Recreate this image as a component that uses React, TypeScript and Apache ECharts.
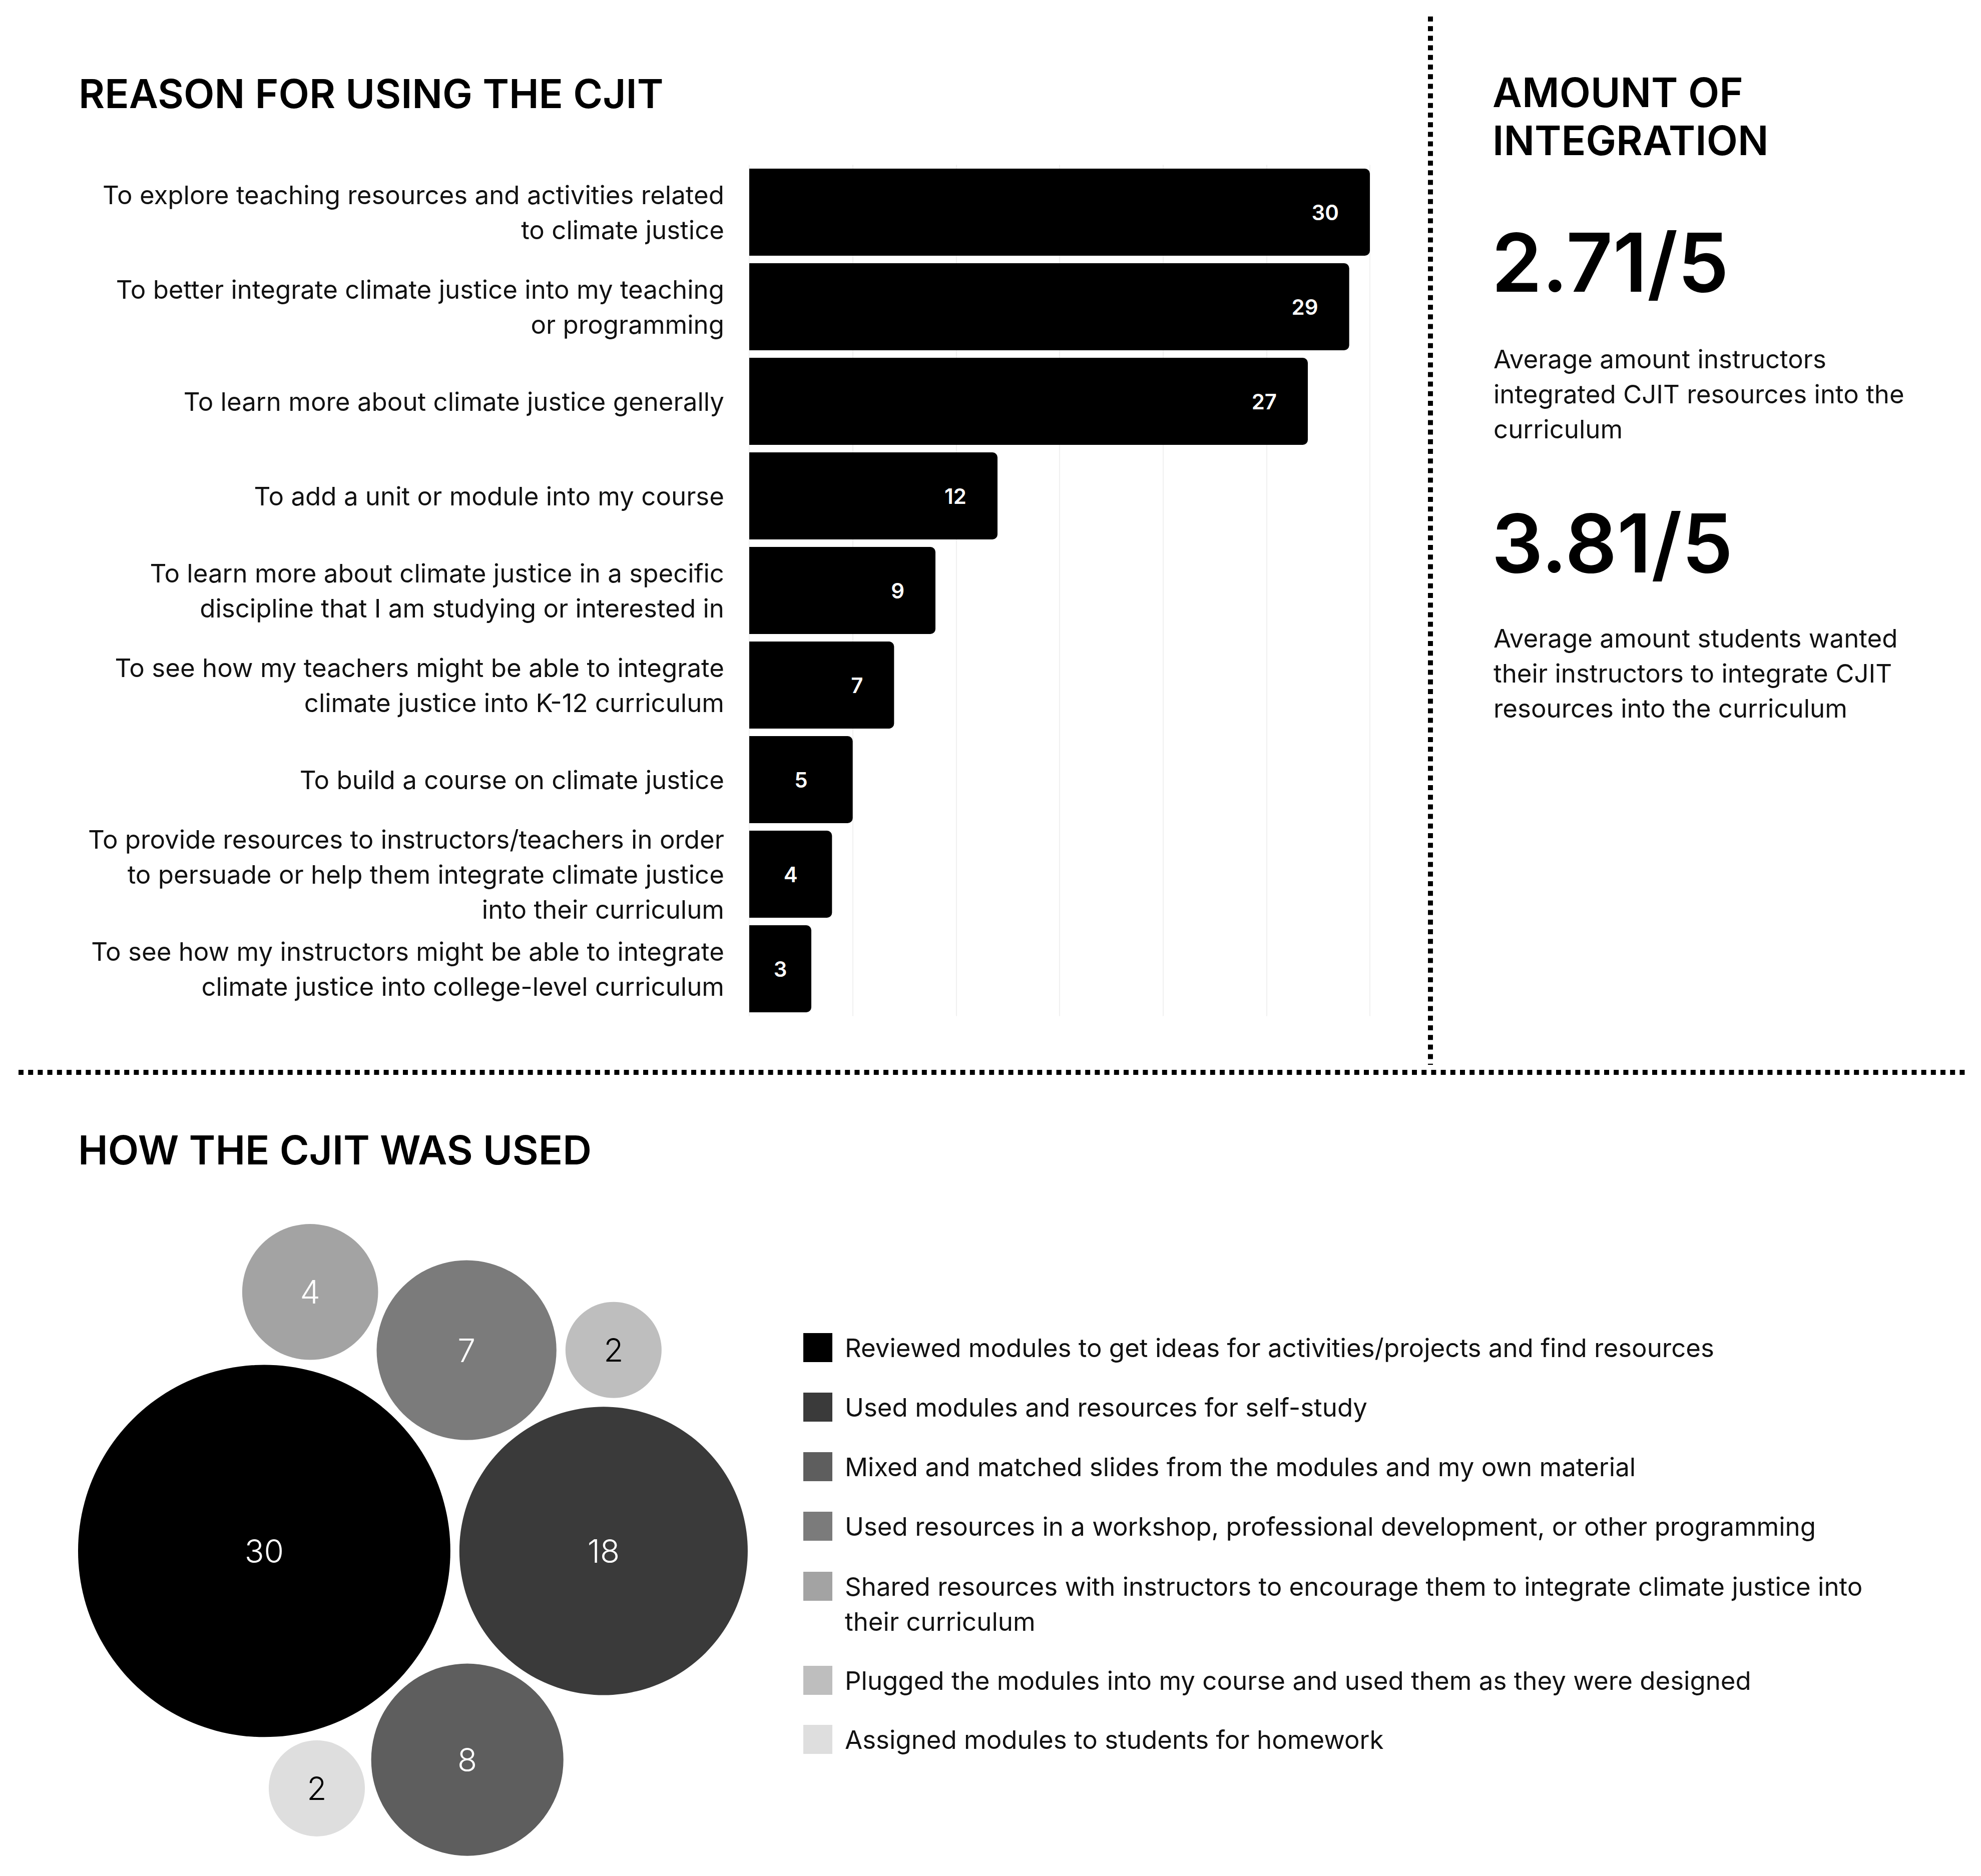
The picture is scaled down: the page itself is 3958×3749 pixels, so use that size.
import React, { useEffect, useRef } from "react";
import * as echarts from "echarts";

// ---------- data ----------
const reasonCategories = [
  "To explore teaching resources and activities related\nto climate justice",
  "To better integrate climate justice into my teaching\nor programming",
  "To learn more about climate justice generally",
  "To add a unit or module into my course",
  "To learn more about climate justice in a specific\ndiscipline that I am studying or interested in",
  "To see how my teachers might be able to integrate\nclimate justice into K-12 curriculum",
  "To build a course on climate justice",
  "To provide resources to instructors/teachers in order\nto persuade or help them integrate climate justice\ninto their curriculum",
  "To see how my instructors might be able to integrate\nclimate justice into college-level curriculum",
];
const reasonValues = [30, 29, 27, 12, 9, 7, 5, 4, 3];
const reasonAxisMax = 30;
const reasonAxisStep = 5;

const usageCategories = [
  "Reviewed modules to get ideas for activities/projects and find resources",
  "Used modules and resources for self-study",
  "Mixed and matched slides from the modules and my own material",
  "Used resources in a workshop, professional development, or other programming",
  "Shared resources with instructors to encourage them to integrate climate justice into\ntheir curriculum",
  "Plugged the modules into my course and used them as they were designed",
  "Assigned modules to students for homework",
];
const usageValues = [30, 18, 8, 7, 4, 2, 2];
const usageColors = ["#000000", "#3a3a3a", "#5e5e5e", "#7b7b7b", "#a3a3a3", "#bebebe", "#dedede"];

const integrationTitle = "AMOUNT OF\nINTEGRATION";
const integrationScores = ["2.71/5", "3.81/5"];
const integrationNotes = [
  "Average amount instructors\nintegrated CJIT resources into the\ncurriculum",
  "Average amount students wanted\ntheir instructors to integrate CJIT\nresources into the curriculum",
];
const reasonTitle = "REASON FOR USING THE CJIT";
const usageTitle = "HOW THE CJIT WAS USED";

// ---------- bubble packing (layout, not data) ----------
const BUBBLE_K = 67.9; // px per sqrt(value)
const BUBBLE_PAD = 18;
// for bubble i (>=2): tangent to bubbles [a, b], on side s
const packRule: Record<number, [number, number, number]> = {
  2: [0, 1, 1],
  3: [0, 1, -1],
  4: [0, 3, -1],
  5: [3, 1, -1],
  6: [0, 2, 1],
};

function packBubbles() {
  const pts: { x: number; y: number; r: number }[] = [];
  usageValues.forEach((v, i) => {
    const r = BUBBLE_K * Math.sqrt(v);
    if (i === 0) pts.push({ x: 0, y: 0, r });
    else if (i === 1) pts.push({ x: pts[0].r + r + BUBBLE_PAD, y: 0, r });
    else {
      const [a, b, s] = packRule[i];
      const p1 = pts[a];
      const p2 = pts[b];
      const d1 = p1.r + r + BUBBLE_PAD;
      const d2 = p2.r + r + BUBBLE_PAD;
      const dx = p2.x - p1.x;
      const dy = p2.y - p1.y;
      const d = Math.hypot(dx, dy);
      const ux = dx / d;
      const uy = dy / d;
      const aa = (d1 * d1 - d2 * d2 + d * d) / (2 * d);
      const h = Math.sqrt(Math.max(0, d1 * d1 - aa * aa));
      pts.push({ x: p1.x + aa * ux - s * h * uy, y: p1.y + aa * uy + s * h * ux, r });
    }
  });
  return pts;
}

const FONT = "Inter";

export default function App() {
  const ref = useRef<HTMLDivElement>(null);

  useEffect(() => {
    document.body.style.margin = "0";
    if (!ref.current) return;
    const chart = echarts.init(ref.current, undefined, { renderer: "svg" });

    const pts = packBubbles();
    const minX = Math.min(...pts.map((p) => p.x - p.r));
    const maxX = Math.max(...pts.map((p) => p.x + p.r));
    const minY = Math.min(...pts.map((p) => p.y - p.r));
    const maxY = Math.max(...pts.map((p) => p.y + p.r));

    const isLight = (c: string) => parseInt(c.slice(1, 3), 16) > 0xb0;

    const bubbleSeries = usageCategories.map((name, i) => ({
      type: "scatter",
      name,
      xAxisIndex: 1,
      yAxisIndex: 1,
      data: [[pts[i].x, pts[i].y, usageValues[i]]],
      symbol: "circle",
      symbolSize: 2 * pts[i].r,
      itemStyle: { color: usageColors[i], opacity: 1 },
      label: {
        show: true,
        position: "inside",
        formatter: (p: any) => String(p.data[2]),
        color: isLight(usageColors[i]) ? "#000" : "#fff",
        fontSize: 64,
        fontFamily: FONT,
        fontWeight: 300,
      },
      emphasis: { disabled: true },
      silent: true,
    }));

    const legendText = {
      fontSize: 51,
      lineHeight: 70,
      color: "#111",
      fontFamily: FONT,
      padding: [0, 0, 0, 20],
    };

    const option: any = {
      animation: false,
      backgroundColor: "#fff",
      grid: [
        { left: 1497, top: 329.5, width: 1240, height: 1701, containLabel: false },
        { left: 156, top: 2446, width: maxX - minX, height: maxY - minY, containLabel: false },
      ],
      xAxis: [
        {
          type: "value",
          gridIndex: 0,
          min: 0,
          max: reasonAxisMax,
          interval: reasonAxisStep,
          axisLabel: { show: false },
          axisLine: { show: false },
          axisTick: { show: false },
          splitLine: { show: true, lineStyle: { color: "#f0f0f0", width: 2 } },
        },
        { type: "value", gridIndex: 1, min: minX, max: maxX, show: false },
      ],
      yAxis: [
        {
          type: "category",
          gridIndex: 0,
          data: reasonCategories,
          inverse: true,
          axisLine: { show: false },
          axisTick: { show: false },
          splitLine: { show: false },
          axisLabel: {
            margin: 50,
            fontSize: 51,
            lineHeight: 70,
            color: "#111",
            fontFamily: FONT,
            align: "right",
          },
        },
        { type: "value", gridIndex: 1, min: minY, max: maxY, inverse: true, show: false },
      ],
      legend: [
        {
          orient: "vertical",
          left: 1605,
          top: 2658,
          padding: 0,
          itemWidth: 58,
          itemHeight: 58,
          itemGap: 49,
          selectedMode: false,
          textStyle: legendText,
          data: usageCategories.slice(0, 4).map((name) => ({ name, icon: "rect" })),
        },
        {
          orient: "vertical",
          left: 1605,
          top: 3065,
          padding: 0,
          itemWidth: 58,
          itemHeight: 58,
          itemGap: 48,
          selectedMode: false,
          textStyle: legendText,
          // a wrapped label gets a blank lead line so its first line sits beside the swatch
          formatter: (name: string) => (name.includes("\n") ? " \n" + name : name),
          data: usageCategories.slice(4).map((name) => ({ name, icon: "rect" })),
        },
      ],
      series: [
        {
          type: "bar",
          xAxisIndex: 0,
          yAxisIndex: 0,
          barWidth: 174,
          data: reasonValues.map((v) => ({
            value: v,
            label: { position: v <= 5 ? "inside" : "insideRight" },
          })),
          itemStyle: { color: "#000", borderRadius: [0, 10, 10, 0] },
          label: {
            show: true,
            position: "insideRight",
            distance: 62,
            color: "#fff",
            fontSize: 42,
            fontWeight: 600,
            fontFamily: FONT,
          },
          emphasis: { disabled: true },
          silent: true,
        },
        ...bubbleSeries,
      ],
      graphic: [
        {
          type: "text",
          x: 157,
          y: 186,
          style: { text: reasonTitle, fontSize: 80, fontWeight: 600, fontFamily: FONT, fill: "#000", verticalAlign: "middle" },
        },
        {
          type: "text",
          x: 156,
          y: 2297,
          style: { text: usageTitle, fontSize: 80, fontWeight: 600, fontFamily: FONT, fill: "#000", verticalAlign: "middle" },
        },
        {
          type: "text",
          x: 2982,
          y: 137,
          style: { text: integrationTitle, fontSize: 81, lineHeight: 96, fontWeight: 600, fontFamily: FONT, fill: "#000", verticalAlign: "top" },
        },
        {
          type: "text",
          x: 2980,
          y: 524,
          style: { text: integrationScores[0], fontSize: 162, fontWeight: 600, fontFamily: FONT, fill: "#000", verticalAlign: "middle" },
        },
        {
          type: "text",
          x: 2984,
          y: 682,
          style: { text: integrationNotes[0], fontSize: 51, lineHeight: 70, fontFamily: FONT, fill: "#111", verticalAlign: "top" },
        },
        {
          type: "text",
          x: 2980,
          y: 1085,
          style: { text: integrationScores[1], fontSize: 162, fontWeight: 600, fontFamily: FONT, fill: "#000", verticalAlign: "middle" },
        },
        {
          type: "text",
          x: 2984,
          y: 1240,
          style: { text: integrationNotes[1], fontSize: 51, lineHeight: 70, fontFamily: FONT, fill: "#111", verticalAlign: "top" },
        },
        {
          type: "line",
          shape: { x1: 2858, y1: 33, x2: 2858, y2: 2128 },
          style: { stroke: "#000", lineWidth: 10, lineDash: [10, 9.2], lineCap: "butt" },
        },
        {
          type: "line",
          shape: { x1: 37, y1: 2143, x2: 3930, y2: 2143 },
          style: { stroke: "#000", lineWidth: 10, lineDash: [10, 9.2], lineCap: "butt" },
        },
      ],
    };

    chart.setOption(option);
    return () => chart.dispose();
  }, []);

  return <div ref={ref} style={{ width: 3958, height: 3749 }} />;
}
